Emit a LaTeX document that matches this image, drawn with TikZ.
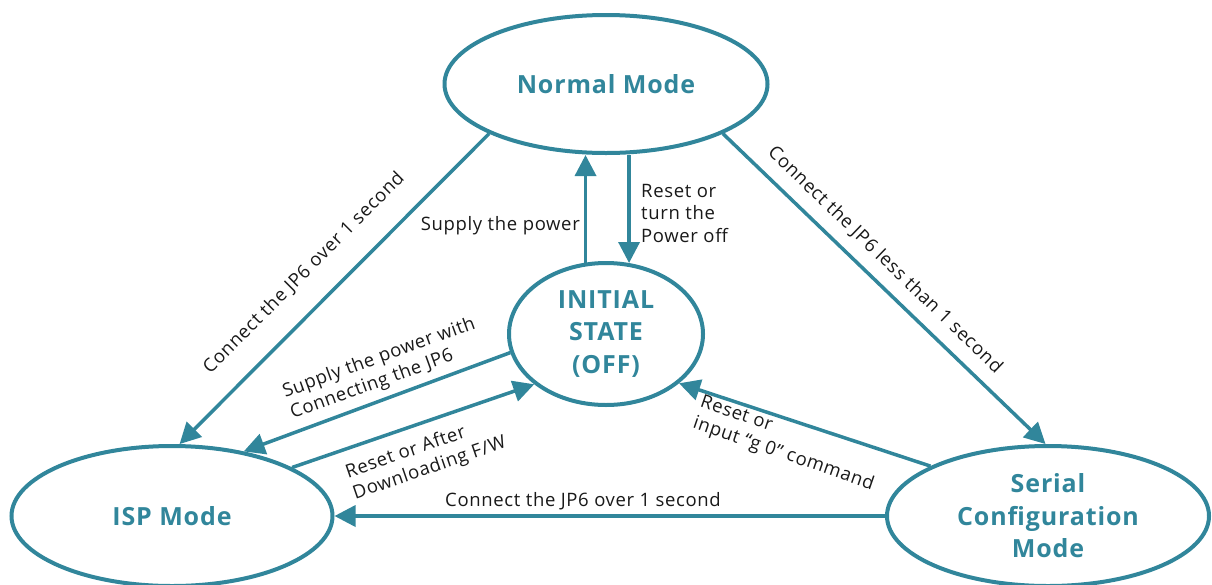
\documentclass[tikz,border=0pt]{standalone}
\usepackage{fontspec}
\setmainfont{Open Sans}[LetterSpace=3.5]
\usetikzlibrary{arrows.meta,shapes.geometric}
\definecolor{tealc}{HTML}{31869B}
\begin{document}
\begin{tikzpicture}[x=1pt,y=-1pt,
  state/.style={ellipse, draw=tealc, line width=4pt, inner sep=0pt, text=tealc,
    font=\bfseries\fontsize{25}{32.5}\selectfont, align=center},
  conn/.style={draw=tealc, line width=3.5pt, -{Triangle[length=21pt,width=21pt]}},
  lbl/.style={font=\fontsize{18.5}{22.5}\selectfont, align=left, inner sep=0pt, text=black!90}]
\useasboundingbox (0,0) rectangle (1212,584);
\node[state, minimum width=323pt, minimum height=138pt] (normal) at (606,84) {Normal Mode};
\node[state, minimum width=194pt, minimum height=142pt] (init) at (606,334) {INITIAL\\STATE\\(OFF)};
\node[state, minimum width=321pt, minimum height=140pt] (isp) at (172,516) {ISP Mode};
\node[state, minimum width=322pt, minimum height=140pt] (serial) at (1048,516) {Serial\\Configuration\\Mode};
\draw[conn] (normal.203) -- (isp.84);
\draw[conn] (normal.337) -- (serial.92);
\draw[conn] (init.106) -- (init.106 |- normal.south);
\draw[conn] (init.72 |- normal.south) -- (init.72);
\draw[conn] (init.191) -- (isp.42);
\draw[conn] (isp.22) -- (init.215);
\draw[conn] (serial.157) -- (init.326);
\draw[conn] (serial.west) -- (isp.east);
\node[lbl, rotate=45] (l1) at (304,273) {Connect the JP6 over 1 second};
\node[lbl, rotate=-44] (l2) at (885,260) {Connect the JP6 less than 1 second};
\node[lbl, anchor=east] (l3) at (580,226) {Supply the power};
\node[lbl, anchor=west] (l4) at (641,213) {Reset or\\turn the\\Power off};
\node[lbl, rotate=20] (l5) at (383,369) {Supply the power with\\Connecting the JP6};
\node[lbl, rotate=19] (l6) at (426,458) {Reset or After\\Downloading F/W};
\node[lbl, rotate=-19] (l7) at (787,444) {Reset or\\input “g 0” command};
\node[lbl] (l8) at (583,501) {Connect the JP6 over 1 second};
\end{tikzpicture}
\end{document}
